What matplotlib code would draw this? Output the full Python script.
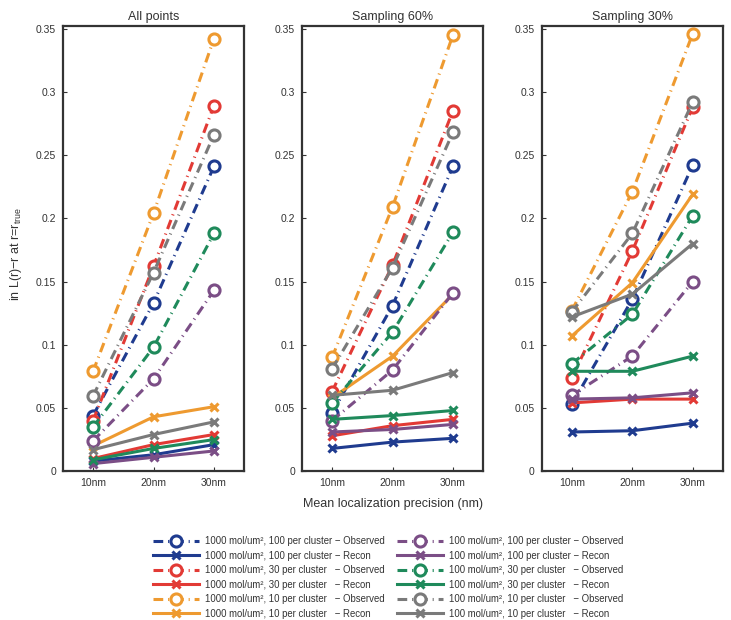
import numpy as np
import matplotlib
matplotlib.use('Agg')
import matplotlib.pyplot as plt

plt.rcParams.update({'font.size': 8, 'font.family': ['Liberation Sans', 'DejaVu Sans'],
                     'lines.scale_dashes': False, 'mathtext.fontset': 'custom',
                     'mathtext.rm': 'Liberation Sans'})

precision = ['10nm', '20nm', '30nm']
panel_titles = ['All points', 'Sampling 60%', 'Sampling 30%']

# series order: 1000/100, 1000/30, 1000/10, 100/100, 100/30, 100/10
series_names = ['1000 mol/um², 100 per cluster', '1000 mol/um², 30 per cluster  ',
                '1000 mol/um², 10 per cluster  ', '100 mol/um², 100 per cluster',
                '100 mol/um², 30 per cluster  ', '100 mol/um², 10 per cluster  ']
colors = ['#1f3b8f', '#e23a35', '#ee9a30', '#7b4e86', '#1f8a5b', '#7a7a7a']

# observed values  [panel][series][precision]
obs_all = [[0.044, 0.133, 0.241], [0.040, 0.162, 0.289], [0.079, 0.204, 0.342],
           [0.024, 0.073, 0.143], [0.035, 0.098, 0.188], [0.0595, 0.157, 0.266]]
obs_60 = [[0.046, 0.131, 0.241], [0.063, 0.163, 0.285], [0.090, 0.209, 0.345],
          [0.040, 0.080, 0.141], [0.054, 0.110, 0.189], [0.081, 0.161, 0.268]]
obs_30 = [[0.053, 0.136, 0.242], [0.074, 0.174, 0.288], [0.127, 0.221, 0.346],
          [0.060, 0.091, 0.150], [0.085, 0.124, 0.202], [0.126, 0.188, 0.292]]

# reconstructed values
rec_all = [[0.008, 0.013, 0.021], [0.010, 0.021, 0.029], [0.020, 0.043, 0.051],
           [0.006, 0.011, 0.016], [0.009, 0.018, 0.025], [0.017, 0.029, 0.039]]
rec_60 = [[0.018, 0.023, 0.026], [0.028, 0.036, 0.041], [0.058, 0.091, 0.140],
          [0.031, 0.033, 0.037], [0.041, 0.044, 0.048], [0.060, 0.064, 0.078]]
rec_30 = [[0.031, 0.032, 0.038], [0.054, 0.057, 0.057], [0.107, 0.149, 0.219],
          [0.057, 0.058, 0.062], [0.079, 0.079, 0.091], [0.122, 0.140, 0.180]]

observed = [obs_all, obs_60, obs_30]
recon = [rec_all, rec_60, rec_30]

fig = plt.figure(figsize=(7.31, 6.2), dpi=100)
lefts = [0.086, 0.413, 0.741]
x = np.arange(1, 4)
dash = (7, 3.5, 0.8, 3.5)

handles = []
for p in range(3):
    ax = fig.add_axes([lefts[p], 0.240, 0.248, 0.718])
    for s in range(6):
        ho, = ax.plot(x, observed[p][s], color=colors[s], lw=2.2, dashes=dash,
                      marker='o', ms=8, mfc='white', mec=colors[s], mew=2.2)
        hr, = ax.plot(x, recon[p][s], color=colors[s], lw=2.2, ls='-',
                      marker='x', ms=6, mew=2.2)
        if p == 0:
            handles.append((ho, series_names[s] + ' − Observed'))
            handles.append((hr, series_names[s] + ' − Recon'))
    ax.set_xlim(0.5, 3.5)
    ax.set_ylim(0, 0.352)
    ax.set_xticks(x)
    ax.set_xticklabels(precision)
    ax.set_yticks([0, 0.05, 0.1, 0.15, 0.2, 0.25, 0.3, 0.35])
    ax.set_yticklabels(['0', '0.05', '0.1', '0.15', '0.2', '0.25', '0.3', '0.35'])
    ax.tick_params(direction='in', length=3, width=0.8, labelsize=7.5, colors='#333333', pad=5)
    for sp in ax.spines.values():
        sp.set_linewidth(1.6)
        sp.set_color('#333333')
    ax.set_title(panel_titles[p], fontsize=9, color='#333333', pad=4)

fig.text(0.537, 0.187, 'Mean localization precision (nm)', ha='center', va='center',
         fontsize=9, color='#333333')
fig.text(0.022, 0.59, 'in L(r)−r at r=r$_{\\mathrm{true}}$', rotation=90, ha='center',
         va='center', fontsize=9, color='#333333')

leg = fig.legend([h for h, _ in handles], [t for _, t in handles], ncol=2,
                 loc='upper center', bbox_to_anchor=(0.531, 0.137), frameon=False,
                 fontsize=6.9, handlelength=4.8, columnspacing=1.3, labelspacing=0.47,
                 handletextpad=0.6, borderpad=0.1, borderaxespad=0)
for t in leg.get_texts():
    t.set_color('#333333')

fig.savefig('out.png', dpi=100)
